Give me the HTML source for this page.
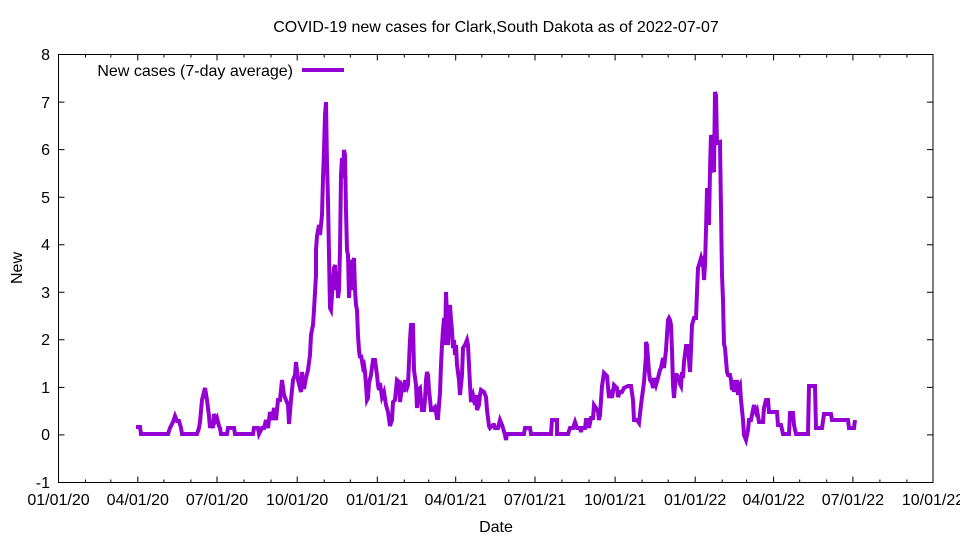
<!DOCTYPE html>
<html><head><meta charset="utf-8"><style>body{margin:0;background:#fff}svg{display:block}text{font-family:"Liberation Sans",sans-serif;font-size:16px;fill:#000}</style></head><body>
<svg width="960" height="540" viewBox="0 0 960 540" xmlns="http://www.w3.org/2000/svg">
<rect width="960" height="540" fill="#fff"/>
<g stroke="#000" stroke-width="1" fill="none">
<path d="M58.5,54.5V482.5H933V54.5Z"/>
<path d="M58.5,482.5h6M58.5,434.9h6M58.5,387.4h6M58.5,339.8h6M58.5,292.3h6M58.5,244.7h6M58.5,197.2h6M58.5,149.6h6M58.5,102.1h6M58.5,54.5h6
M933,482.5h-6M933,434.9h-6M933,387.4h-6M933,339.8h-6M933,292.3h-6M933,244.7h-6M933,197.2h-6M933,149.6h-6M933,102.1h-6M933,54.5h-6"/>
<path d="M137.8,482.5v-6M217,482.5v-6M297.2,482.5v-6M377.3,482.5v-6M455.7,482.5v-6M535,482.5v-6M615.1,482.5v-6M695.2,482.5v-6M773.6,482.5v-6M852.9,482.5v-6
M137.8,54.5v6M217,54.5v6M297.2,54.5v6M377.3,54.5v6M455.7,54.5v6M535,54.5v6M615.1,54.5v6M695.2,54.5v6M773.6,54.5v6M852.9,54.5v6"/>
<path d="M85.5,482.5v-3M110.8,482.5v-3M163.9,482.5v-3M190.9,482.5v-3M244,482.5v-3M271,482.5v-3M324.2,482.5v-3M350.3,482.5v-3M404.3,482.5v-3M428.7,482.5v-3M481.8,482.5v-3M508.8,482.5v-3M561.9,482.5v-3M589,482.5v-3M642.1,482.5v-3M668.2,482.5v-3M722.2,482.5v-3M746.6,482.5v-3M799.7,482.5v-3M826.7,482.5v-3M879.9,482.5v-3M906.9,482.5v-3
M85.5,54.5v3M110.8,54.5v3M163.9,54.5v3M190.9,54.5v3M244,54.5v3M271,54.5v3M324.2,54.5v3M350.3,54.5v3M404.3,54.5v3M428.7,54.5v3M481.8,54.5v3M508.8,54.5v3M561.9,54.5v3M589,54.5v3M642.1,54.5v3M668.2,54.5v3M722.2,54.5v3M746.6,54.5v3M799.7,54.5v3M826.7,54.5v3M879.9,54.5v3M906.9,54.5v3"/>
</g>
<g text-anchor="end">
<text x="50" y="488">-1</text><text x="50" y="440">0</text><text x="50" y="393">1</text><text x="50" y="345">2</text><text x="50" y="298">3</text><text x="50" y="250">4</text><text x="50" y="203">5</text><text x="50" y="155">6</text><text x="50" y="108">7</text><text x="50" y="60">8</text>
</g>
<g text-anchor="middle">
<text x="58.5" y="505">01/01/20</text><text x="137.8" y="505">04/01/20</text><text x="217" y="505">07/01/20</text><text x="297.2" y="505">10/01/20</text><text x="377.3" y="505">01/01/21</text><text x="455.7" y="505">04/01/21</text><text x="535" y="505">07/01/21</text><text x="615.1" y="505">10/01/21</text><text x="695.2" y="505">01/01/22</text><text x="773.6" y="505">04/01/22</text><text x="852.9" y="505">07/01/22</text><text x="933" y="505">10/01/22</text>
<text x="496" y="532">Date</text>
<text x="496" y="32">COVID-19 new cases for Clark,South Dakota as of 2022-07-07</text>
<text transform="translate(22,268) rotate(-90)">New</text>
</g>
<text x="293" y="76" text-anchor="end">New cases (7-day average)</text>
<path d="M302,70H344" stroke="#9400d3" stroke-width="4"/>
<polyline fill="none" stroke="#9400d3" stroke-width="4" stroke-linejoin="miter" points="136,427 140,427 141,434 168,434 170,428 173,422 175,416 177,421 179,421 181,428 182,434 197,434 199,428 200,422 202,400 204,392 205,388 207,400 209,416 210,428 211,422 213,428 214,414 216,420 217,418 219,426 220,428 221,434 227,434 228,428 234,428 235,434 253,434 254,428 258,428 259,434 262,428 264,428 266,420 268,428 270,412 272,420 274,408 276,420 278,400 280,400 282,380 284,395 286,400 288,405 289,424 291,400 293,380 295,375 296,362 298,380 300,388 301,392 302,372 304,389 306,378 308,370 310,355 311,335 313,325 314,310 316,275 316,250 317,236 319,225 320,235 322,215 323,178 324,150 325,115 326,102 327,165 328,200 329,255 330,308 331,310 333,280 334,268 335,265 336,290 337,272 338,298 339,290 340,250 341,175 342,158 343,178 344,150 345,155 346,210 347,250 348,255 349,298 350,282 351,290 352,260 353,262 354,258 355,290 356,305 357,310 358,335 359,350 360,358 361,355 363,367 364,365 365,372 366,385 367,400 368,398 369,383 371,375 373,360 375,360 377,375 378,385 379,390 380,383 382,397 384,392 386,405 388,412 390,426 392,420 393,402 395,400 396,390 397,380 399,382 400,402 402,387 404,392 405,380 406,386 407,388 408,385 410,340 411,325 413,325 414,370 416,385 417,408 418,390 420,388 421,400 422,410 424,410 425,400 426,380 427,372 428,375 429,390 431,410 433,410 434,408 435,407 436,412 437,418 438,418 440,393 441,365 442,345 443,330 444,318 445,345 446,292 447,315 448,345 449,320 450,305 451,320 452,330 453,348 454,340 455,355 456,345 457,365 459,380 460,395 462,375 463,348 465,345 467,340 468,345 470,385 471,402 472,398 473,395 474,400 475,405 476,395 477,410 479,405 480,395 481,390 484,392 486,397 487,410 488,418 489,426 490,428 493,425 494,425 495,428 498,428 500,420 502,425 503,428 505,435 506,440 507,434 524,434 525,428 530,428 531,434 551,434 552,420 557,420 557,434 568,434 570,428 573,428 575,422 577,428 580,428 581,432 582,428 585,428 586,420 588,420 589,428 591,418 593,418 594,405 596,408 598,412 599,420 600,415 602,386 604,373 607,376 609,398 611,390 612,398 614,385 617,388 618,397 620,392 622,392 624,388 628,386 631,386 633,400 634,420 637,420 639,423 641,405 644,382 646,355 646,342 647,345 649,372 650,380 652,383 653,388 654,378 656,385 658,378 660,370 661,368 663,358 664,368 666,350 668,320 669,318 670,320 671,325 672,350 673,385 674,398 676,375 677,375 679,378 680,384 681,386 682,372 683,378 684,362 686,346 688,346 689,360 690,372 691,350 692,325 694,318 696,318 697,292 698,268 699,265 701,258 702,262 703,260 704,280 705,265 706,230 707,190 708,190 709,225 710,170 711,135 712,140 713,170 714,172 715,92 716,95 717,143 720,142 721,210 722,275 723,300 724,344 725,348 726,360 727,372 728,375 730,375 731,380 732,390 733,380 734,392 735,385 736,390 737,380 738,395 739,387 740,385 741,400 742,410 743,420 744,435 746,440 748,430 749,420 751,420 753,410 754,405 756,412 757,410 759,422 763,422 764,408 766,400 768,400 769,412 777,412 778,425 781,425 783,434 789,434 790,413 793,413 794,425 796,434 808,434 809,386 815,386 816,428 822,428 824,414 831,414 832,420 848,420 849,428 854,428 855,420"/>
</svg>
</body></html>
